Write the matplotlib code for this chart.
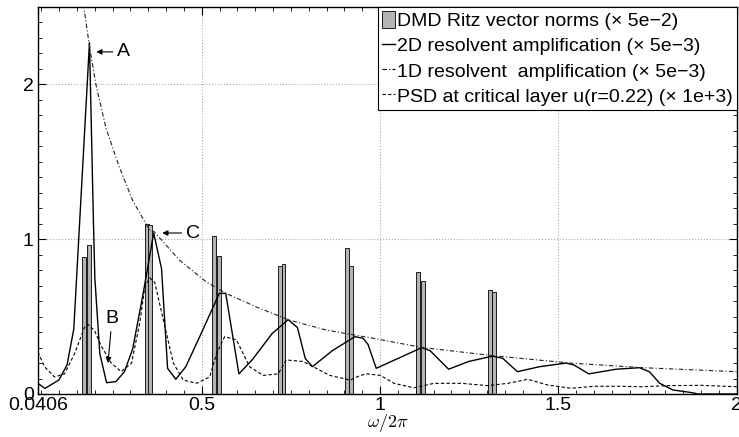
import numpy as np
import matplotlib
matplotlib.use("Agg")
import matplotlib.pyplot as plt
from matplotlib.patches import Patch
from matplotlib.lines import Line2D

plt.rcParams['font.family'] = ['Liberation Sans', 'DejaVu Sans']
plt.rcParams['mathtext.fontset'] = 'cm'

# DMD Ritz vector norms (x 5e-2)
dmd_freq = [0.170, 0.184, 0.345, 0.354, 0.534, 0.548, 0.718, 0.729,
            0.906, 0.919, 1.106, 1.119, 1.309, 1.318]
dmd_norm = [0.886, 0.96, 1.10, 1.09, 1.02, 0.89, 0.83, 0.84,
            0.946, 0.83, 0.79, 0.727, 0.669, 0.66]

# 2D resolvent amplification (x 5e-3)
res2d_freq = [0.0406, 0.060, 0.099, 0.122, 0.141, 0.185, 0.196, 0.200, 0.214,
              0.233, 0.259, 0.283, 0.306, 0.334, 0.365, 0.387, 0.404, 0.427,
              0.455, 0.502, 0.549, 0.567, 0.604, 0.641, 0.697, 0.742, 0.768,
              0.790, 0.810, 0.866, 0.929, 0.952, 0.966, 0.989, 1.060, 1.117,
              1.140, 1.192, 1.248, 1.316, 1.344, 1.385, 1.446, 1.521, 1.544,
              1.585, 1.661, 1.727, 1.755, 1.784, 1.821, 1.877, 1.890, 2.0]
res2d_amp = [0.069, 0.036, 0.09, 0.187, 0.42, 2.27, 1.12, 0.75, 0.26,
             0.073, 0.08, 0.144, 0.29, 0.63, 1.04, 0.81, 0.166, 0.095,
             0.176, 0.41, 0.65, 0.65, 0.13, 0.22, 0.39, 0.48, 0.43,
             0.23, 0.176, 0.28, 0.37, 0.36, 0.32, 0.166, 0.24, 0.30,
             0.28, 0.16, 0.21, 0.245, 0.23, 0.144, 0.176, 0.20, 0.187,
             0.13, 0.16, 0.17, 0.144, 0.069, 0.026, 0.008, 0.0, 0.0]

# 1D resolvent amplification (x 5e-3)
res1d_freq = [0.168, 0.184, 0.203, 0.231, 0.268, 0.306, 0.353, 0.367, 0.437,
              0.512, 0.568, 0.652, 0.746, 0.849, 0.980, 1.119, 1.327, 1.532,
              1.737, 2.0]
res1d_amp = [2.52, 2.26, 2.00, 1.72, 1.47, 1.25, 1.06, 1.047, 0.865,
             0.725, 0.65, 0.563, 0.477, 0.413, 0.36, 0.30, 0.245, 0.20,
             0.17, 0.144]

# PSD at critical layer (x 1e+3)
psd_freq = [0.0406, 0.059, 0.087, 0.115, 0.143, 0.171, 0.180, 0.199, 0.218,
            0.246, 0.274, 0.303, 0.326, 0.340, 0.354, 0.368, 0.392, 0.420,
            0.448, 0.485, 0.522, 0.541, 0.564, 0.597, 0.634, 0.672, 0.714,
            0.737, 0.784, 0.859, 0.916, 0.944, 0.963, 1.001, 1.039, 1.095,
            1.151, 1.227, 1.302, 1.358, 1.414, 1.470, 1.536, 1.601, 1.666,
            1.732, 1.807, 1.900, 2.0]
psd_amp = [0.27, 0.176, 0.11, 0.13, 0.26, 0.43, 0.45, 0.41, 0.31,
           0.20, 0.144, 0.20, 0.46, 0.69, 0.75, 0.72, 0.48, 0.20,
           0.09, 0.069, 0.11, 0.26, 0.37, 0.35, 0.176, 0.12, 0.13,
           0.22, 0.21, 0.12, 0.09, 0.12, 0.13, 0.12, 0.069, 0.04,
           0.069, 0.069, 0.054, 0.069, 0.095, 0.058, 0.037, 0.05, 0.05,
           0.047, 0.054, 0.056, 0.047]

xticks = [0.0406, 0.5, 1, 1.5, 2]
xticklabels = ['0.0406', '0.5', '1', '1.5', '2']
yticks = [0, 1, 2]

fig = plt.figure(figsize=(7.39, 4.37), dpi=100)
ax = fig.add_axes([0.0514, 0.0984, 0.9456, 0.8856])

ax.bar(dmd_freq, dmd_norm, width=0.011, color='#b4b4b4', edgecolor='black',
       linewidth=0.6, zorder=2)
ax.plot(res2d_freq, res2d_amp, color='black', lw=1.0, zorder=3)
ax.plot(res1d_freq, res1d_amp, color='#222222', lw=0.8, ls=(0, (4, 2, 1, 2)), zorder=3)
ax.plot(psd_freq, psd_amp, color='black', lw=0.8, ls=(0, (3, 2)), zorder=3)

ax.set_xlim(0.0406, 2)
ax.set_ylim(0, 2.5)
ax.set_xticks(xticks)
ax.set_xticklabels(xticklabels)
ax.set_yticks(yticks)
ax.set_xticks(np.arange(0.05, 2.0, 0.05), minor=True)
ax.set_yticks(np.arange(0.1, 2.5, 0.1), minor=True)
ax.tick_params(which='both', direction='in', top=True, right=True, labelsize=14)
ax.tick_params(which='major', length=6, width=0.8)
ax.tick_params(which='minor', length=3, width=0.6)
ax.tick_params(axis='x', pad=2)
ax.tick_params(axis='y', pad=3)
ax.grid(which='major', ls=':', color='#aaaaaa', lw=0.8)
ax.set_axisbelow(True)
for s in ax.spines.values():
    s.set_linewidth(1.0)

ax.set_xlabel(r'$\omega/2\pi$', fontsize=13, labelpad=-1)

# annotations
arrow = dict(arrowstyle='-|>', color='black', lw=0.8,
             mutation_scale=8, shrinkA=1, shrinkB=0)
ax.annotate('A', xy=(0.204, 2.21), xytext=(0.262, 2.21), fontsize=14,
            va='center', ha='left', arrowprops=arrow)
ax.annotate('B', xy=(0.237, 0.20), xytext=(0.248, 0.43), fontsize=14,
            va='bottom', ha='center', arrowprops=arrow)
ax.annotate('C', xy=(0.389, 1.04), xytext=(0.455, 1.04), fontsize=14,
            va='center', ha='left', arrowprops=arrow)

handles = [Patch(facecolor='#b4b4b4', edgecolor='black', lw=0.6),
           Line2D([], [], color='black', lw=1.0),
           Line2D([], [], color='black', lw=0.8, ls=(0, (4, 2, 1, 2))),
           Line2D([], [], color='black', lw=0.8, ls=(0, (3, 2)))]
labels = ['DMD Ritz vector norms (\u00d7 5e\u22122)',
          '2D resolvent amplification (\u00d7 5e\u22123)',
          '1D resolvent  amplification (\u00d7 5e\u22123)',
          'PSD at critical layer u(r=0.22) (\u00d7 1e+3)']
leg = ax.legend(handles, labels, loc='upper right', borderaxespad=0,
                fancybox=False, edgecolor='black', framealpha=1,
                fontsize=14, handlelength=0.7, handletextpad=0.1,
                borderpad=0.2, labelspacing=0.3, handleheight=1.0)
leg.get_frame().set_linewidth(0.8)

fig.savefig('out.png', dpi=100)
